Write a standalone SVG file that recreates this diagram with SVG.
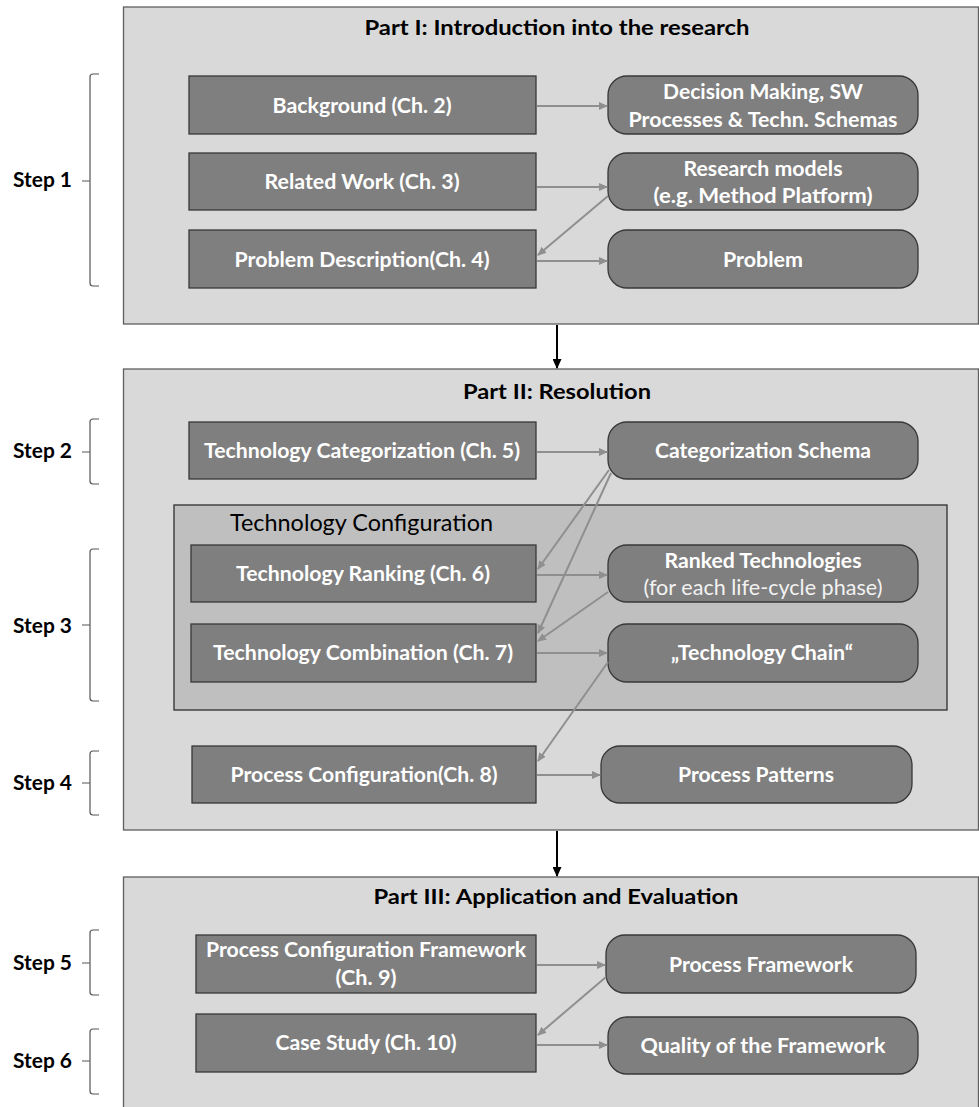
<svg xmlns="http://www.w3.org/2000/svg" width="979" height="1107" viewBox="0 0 979 1107">
  <defs>
    <style>
      .part { fill: #d9d9d9; stroke: #5f5f5f; stroke-width: 1.3; }
      .inner { fill: #bfbfbf; stroke: #2f2f2f; stroke-width: 1.3; }
      .box { fill: #7f7f7f; stroke: #383838; stroke-width: 1.3; }
      .title { font-family: Lato, "Liberation Sans", sans-serif; font-weight: bold; font-size: 21px; fill: #000; text-anchor: middle; }
      .step { font-family: Lato, "Liberation Sans", sans-serif; font-weight: bold; font-size: 21px; fill: #000; }
      .lbl { font-family: Lato, "Liberation Sans", sans-serif; font-weight: bold; font-size: 21px; fill: #fff; text-anchor: middle; }
      .sub { font-family: Lato, "Liberation Sans", sans-serif; font-weight: normal; font-size: 21px; fill: #f2f2f2; text-anchor: middle; }
      .group-lbl { font-family: Lato, "Liberation Sans", sans-serif; font-weight: normal; font-size: 23px; fill: #000; }
      .brace { fill: none; stroke: #555; stroke-width: 1.2; }
      .flow { fill: none; stroke: #8f8f8f; stroke-width: 2; marker-end: url(#grayHead); }
      .main { fill: none; stroke: #000; stroke-width: 2; marker-end: url(#blackHead); }
    </style>
    <marker id="grayHead" markerUnits="userSpaceOnUse" markerWidth="9" markerHeight="8" refX="8" refY="4" orient="auto">
      <path d="M0,0 L9,4 L0,8 z" fill="#8f8f8f"/>
    </marker>
    <marker id="blackHead" markerUnits="userSpaceOnUse" markerWidth="10" markerHeight="9" refX="9" refY="4.5" orient="auto">
      <path d="M0,0 L10,4.5 L0,9 z" fill="#000"/>
    </marker>
  </defs>

  <rect width="979" height="1107" fill="#fff"/>

  <!-- Part frames -->
  <g id="part1">
    <rect class="part" x="123.5" y="7" width="855" height="317"/>
    <text class="title" x="557" y="35" textLength="385" lengthAdjust="spacingAndGlyphs">Part I: Introduction into the research</text>
  </g>
  <g id="part2">
    <rect class="part" x="123.5" y="369" width="855" height="461"/>
    <text class="title" x="557" y="399" textLength="188" lengthAdjust="spacingAndGlyphs">Part II: Resolution</text>
  </g>
  <g id="techConfig">
    <rect class="inner" x="174" y="505" width="773" height="205"/>
    <text class="group-lbl" x="230" y="531" textLength="263" lengthAdjust="spacingAndGlyphs">Technology Configuration</text>
  </g>
  <g id="part3">
    <rect class="part" x="123.5" y="877" width="855" height="240"/>
    <text class="title" x="556" y="904" textLength="365" lengthAdjust="spacingAndGlyphs">Part III: Application and Evaluation</text>
  </g>

  <!-- Step braces -->
  <g id="step1">
    <text class="step" x="13" y="187" textLength="59" lengthAdjust="spacingAndGlyphs">Step 1</text>
    <path class="brace" d="M99,74 H93 Q90,74 90,77 V283 Q90,286 93,286 H99 M82,181 H90"/>
  </g>
  <g id="step2">
    <text class="step" x="13" y="458" textLength="59" lengthAdjust="spacingAndGlyphs">Step 2</text>
    <path class="brace" d="M99,419 H93 Q90,419 90,422 V481 Q90,484 93,484 H99 M82,452 H90"/>
  </g>
  <g id="step3">
    <text class="step" x="13" y="633" textLength="59" lengthAdjust="spacingAndGlyphs">Step 3</text>
    <path class="brace" d="M99,549 H93 Q90,549 90,552 V698 Q90,701 93,701 H99 M82,625 H90"/>
  </g>
  <g id="step4">
    <text class="step" x="13" y="790" textLength="59" lengthAdjust="spacingAndGlyphs">Step 4</text>
    <path class="brace" d="M99,751 H93 Q90,751 90,754 V812 Q90,815 93,815 H99 M82,783 H90"/>
  </g>
  <g id="step5">
    <text class="step" x="13" y="970" textLength="59" lengthAdjust="spacingAndGlyphs">Step 5</text>
    <path class="brace" d="M99,930 H93 Q90,930 90,933 V992 Q90,995 93,995 H99 M82,963 H90"/>
  </g>
  <g id="step6">
    <text class="step" x="13" y="1068" textLength="59" lengthAdjust="spacingAndGlyphs">Step 6</text>
    <path class="brace" d="M99,1029 H93 Q90,1029 90,1032 V1091 Q90,1094 93,1094 H99 M82,1061 H90"/>
  </g>

  <!-- Part I nodes -->
  <g id="background">
    <rect class="box" x="189" y="76" width="347" height="58"/>
    <text class="lbl" x="362" y="113" textLength="179" lengthAdjust="spacingAndGlyphs">Background (Ch. 2)</text>
  </g>
  <g id="relatedWork">
    <rect class="box" x="189" y="153" width="347" height="57"/>
    <text class="lbl" x="362" y="189" textLength="195" lengthAdjust="spacingAndGlyphs">Related Work (Ch. 3)</text>
  </g>
  <g id="problemDescription">
    <rect class="box" x="189" y="230" width="347" height="58"/>
    <text class="lbl" x="362" y="267" textLength="255" lengthAdjust="spacingAndGlyphs">Problem Description(Ch. 4)</text>
  </g>
  <g id="decisionMaking">
    <rect class="box" x="608" y="76" width="310" height="58" rx="19"/>
    <text class="lbl" x="763" y="99" textLength="200" lengthAdjust="spacingAndGlyphs">Decision Making, SW</text>
    <text class="lbl" x="763" y="127" textLength="269" lengthAdjust="spacingAndGlyphs">Processes &amp; Techn. Schemas</text>
  </g>
  <g id="researchModels">
    <rect class="box" x="608" y="153" width="310" height="57" rx="19"/>
    <text class="lbl" x="763" y="176" textLength="159" lengthAdjust="spacingAndGlyphs">Research models</text>
    <text class="lbl" x="763" y="203" textLength="219" lengthAdjust="spacingAndGlyphs">(e.g. Method Platform)</text>
  </g>
  <g id="problem">
    <rect class="box" x="608" y="230" width="310" height="58" rx="19"/>
    <text class="lbl" x="763" y="267" textLength="80" lengthAdjust="spacingAndGlyphs">Problem</text>
  </g>

  <!-- Part II nodes -->
  <g id="techCategorization">
    <rect class="box" x="189" y="422" width="347" height="57"/>
    <text class="lbl" x="362" y="458" textLength="316" lengthAdjust="spacingAndGlyphs">Technology Categorization (Ch. 5)</text>
  </g>
  <g id="categorizationSchema">
    <rect class="box" x="608" y="422" width="310" height="57" rx="19"/>
    <text class="lbl" x="763" y="458" textLength="216" lengthAdjust="spacingAndGlyphs">Categorization Schema</text>
  </g>
  <g id="techRanking">
    <rect class="box" x="191" y="545" width="345" height="57"/>
    <text class="lbl" x="363" y="581" textLength="254" lengthAdjust="spacingAndGlyphs">Technology Ranking (Ch. 6)</text>
  </g>
  <g id="rankedTechnologies">
    <rect class="box" x="608" y="545" width="310" height="57" rx="19"/>
    <text class="lbl" x="763" y="568" textLength="197" lengthAdjust="spacingAndGlyphs">Ranked Technologies</text>
    <text class="sub" x="763" y="595" textLength="239" lengthAdjust="spacingAndGlyphs">(for each life-cycle phase)</text>
  </g>
  <g id="techCombination">
    <rect class="box" x="191" y="624" width="345" height="58"/>
    <text class="lbl" x="363" y="660" textLength="300" lengthAdjust="spacingAndGlyphs">Technology Combination (Ch. 7)</text>
  </g>
  <g id="techChain">
    <rect class="box" x="608" y="624" width="310" height="58" rx="19"/>
    <text class="lbl" x="762" y="660" textLength="182" lengthAdjust="spacingAndGlyphs">„Technology Chain“</text>
  </g>
  <g id="processConfiguration">
    <rect class="box" x="192" y="746" width="344" height="57"/>
    <text class="lbl" x="364" y="782" textLength="267" lengthAdjust="spacingAndGlyphs">Process Configuration(Ch. 8)</text>
  </g>
  <g id="processPatterns">
    <rect class="box" x="601" y="746" width="311" height="57" rx="19"/>
    <text class="lbl" x="756" y="782" textLength="156" lengthAdjust="spacingAndGlyphs">Process Patterns</text>
  </g>

  <!-- Part III nodes -->
  <g id="processConfigFramework">
    <rect class="box" x="196" y="935" width="340" height="58"/>
    <text class="lbl" x="366" y="957" textLength="320" lengthAdjust="spacingAndGlyphs">Process Configuration Framework</text>
    <text class="lbl" x="366" y="985" textLength="61" lengthAdjust="spacingAndGlyphs">(Ch. 9)</text>
  </g>
  <g id="processFramework">
    <rect class="box" x="606" y="935" width="310" height="58" rx="19"/>
    <text class="lbl" x="761" y="972" textLength="184" lengthAdjust="spacingAndGlyphs">Process Framework</text>
  </g>
  <g id="caseStudy">
    <rect class="box" x="196" y="1014" width="340" height="58"/>
    <text class="lbl" x="366" y="1050" textLength="181" lengthAdjust="spacingAndGlyphs">Case Study (Ch. 10)</text>
  </g>
  <g id="quality">
    <rect class="box" x="608" y="1017" width="310" height="57" rx="19"/>
    <text class="lbl" x="763" y="1053" textLength="245" lengthAdjust="spacingAndGlyphs">Quality of the Framework</text>
  </g>

  <!-- Connectors -->
  <g id="connectors">
    <line class="main" x1="557" y1="325" x2="557" y2="368"/>
    <line class="main" x1="557" y1="831" x2="557" y2="876"/>

    <line class="flow" x1="537" y1="106" x2="607" y2="106"/>
    <line class="flow" x1="537" y1="187" x2="607" y2="187"/>
    <line class="flow" x1="608" y1="196" x2="538" y2="255"/>
    <line class="flow" x1="537" y1="261" x2="607" y2="261"/>

    <line class="flow" x1="537" y1="452" x2="607" y2="452"/>
    <line class="flow" x1="609" y1="470" x2="538" y2="569"/>
    <line class="flow" x1="611" y1="473" x2="538" y2="633"/>
    <line class="flow" x1="537" y1="575" x2="607" y2="575"/>
    <line class="flow" x1="608" y1="592" x2="538" y2="641"/>
    <line class="flow" x1="537" y1="653" x2="607" y2="653"/>
    <line class="flow" x1="608" y1="662" x2="538" y2="761"/>
    <line class="flow" x1="537" y1="775" x2="600" y2="775"/>

    <line class="flow" x1="537" y1="965" x2="605" y2="965"/>
    <line class="flow" x1="606" y1="977" x2="538" y2="1035"/>
    <line class="flow" x1="537" y1="1045" x2="607" y2="1045"/>
  </g>
</svg>
